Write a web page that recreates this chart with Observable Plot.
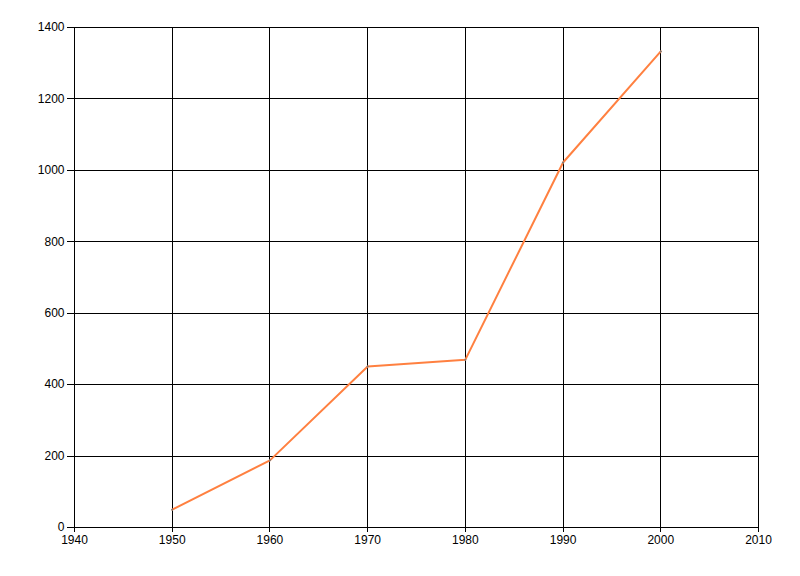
<!DOCTYPE html>
<html>
<head>
<meta charset="utf-8">
<script src="https://cdn.jsdelivr.net/npm/d3@7"></script>
<script src="https://cdn.jsdelivr.net/npm/@observablehq/plot@0.6"></script>
<style>
  html, body { margin: 0; padding: 0; background: #fff; }
  #chart svg { display: block; }
</style>
</head>
<body>
<div id="chart"></div>
<script>
const years = [1950, 1960, 1970, 1980, 1990, 2000];
const values = [50, 188, 451, 470, 1022, 1333];
const xTicks = [1940, 1950, 1960, 1970, 1980, 1990, 2000, 2010];
const yTicks = [0, 200, 400, 600, 800, 1000, 1200, 1400];

const data = years.map((y, i) => ({year: y, value: values[i]}));

const crisp = {shapeRendering: "crispEdges"};

const chart = Plot.plot({
  width: 800,
  height: 576,
  marginLeft: 74,
  marginRight: 42,
  marginTop: 27,
  marginBottom: 49,
  style: {fontFamily: "'Liberation Sans', Arial, sans-serif", fontSize: "12px", color: "#000", background: "#fff"},
  x: {domain: [1940, 2010], ticks: xTicks, tickFormat: d => String(d)},
  y: {domain: [0, 1400], ticks: yTicks, tickFormat: d => String(d)},
  marks: [
    Plot.gridX(xTicks, {stroke: "#000", strokeOpacity: 1, ...crisp}),
    Plot.gridY(yTicks, {stroke: "#000", strokeOpacity: 1, ...crisp}),
    Plot.frame({stroke: "#000", ...crisp}),
    Plot.axisX(xTicks, {tickSize: 5, tickPadding: 3, label: null, tickFormat: d => String(d), fill: "#000", ...crisp}),
    Plot.axisY(yTicks, {tickSize: 7, tickPadding: 3, label: null, tickFormat: d => String(d), fill: "#000", ...crisp}),
    Plot.line(data, {x: "year", y: "value", stroke: "#ff8040", strokeWidth: 2}),
    Plot.dot(data, {x: "year", y: "value", r: 1, fill: "#777", stroke: null})
  ]
});
document.getElementById("chart").append(chart);
</script>
</body>
</html>
